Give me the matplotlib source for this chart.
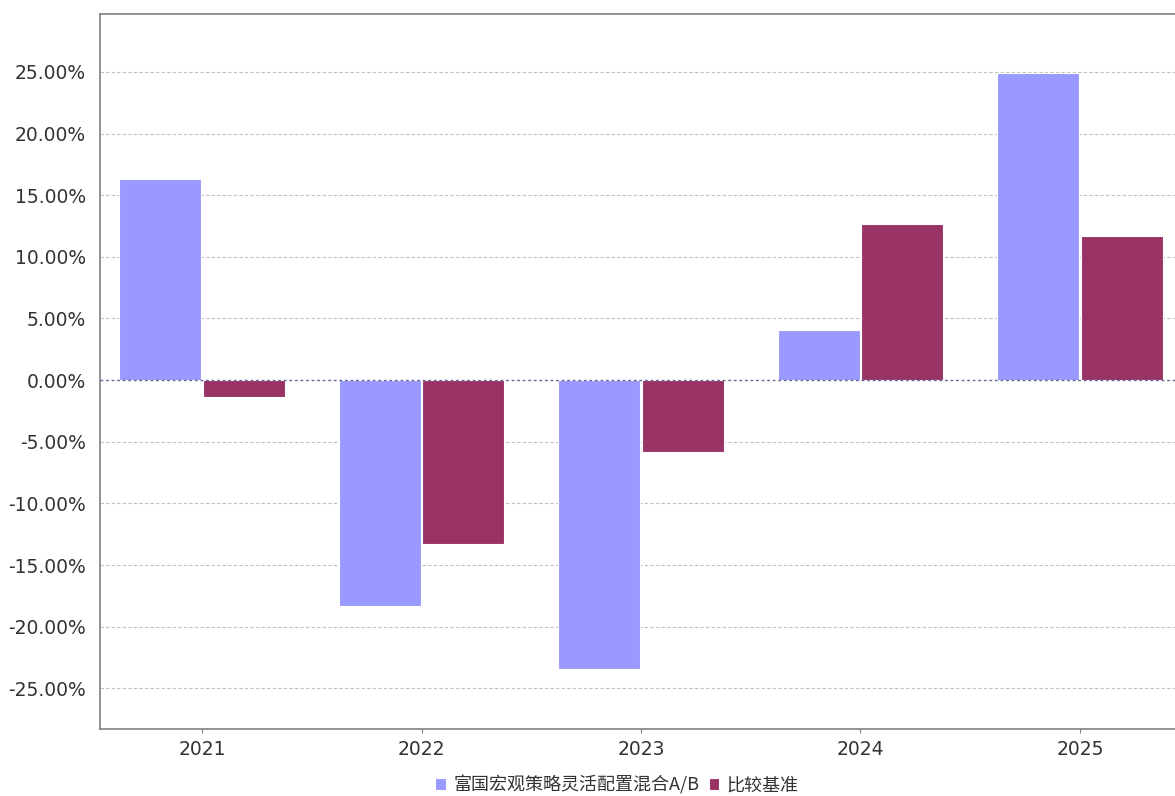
import matplotlib.pyplot as plt
import numpy as np

years = ['2021', '2022', '2023', '2024', '2025']
fund = [16.3, -18.3, -23.4, 4.06, 24.9]
benchmark = [-1.4, -13.3, -5.8, 12.66, 11.7]
series_names = ['富国宏观策略灵活配置混合A/B', '比较基准']
y_ticks = [-25, -20, -15, -10, -5, 0, 5, 10, 15, 20, 25]

plt.rcParams['font.family'] = ['DejaVu Sans', 'Noto Sans CJK SC']

fig = plt.figure(figsize=(11.75, 7.96), dpi=100)
# axes runs a bit past the right edge, like the cropped original
ax = fig.add_axes([100 / 1175, 67 / 796, 1082 / 1175, 715 / 796])

x = np.arange(len(years))
bar_width = 0.373
off = 0.19

ax.bar(x - off, fund, bar_width, color='#9999FF', edgecolor='white', linewidth=0.8,
       label=series_names[0], zorder=3)
ax.bar(x + off, benchmark, bar_width, color='#993366', edgecolor='white', linewidth=0.8,
       label=series_names[1], zorder=3)

ax.set_xlim(-0.465, 4.465)
ax.set_ylim(-28.3, 29.7)
ax.set_xticks(x)
ax.set_xticklabels(years)
ax.set_yticks(y_ticks)
ax.set_yticklabels(['%.2f%%' % v for v in y_ticks])

# grid lines, zero line darker and dotted
for v in y_ticks:
    if v == 0:
        ax.axhline(0, color='#666699', linestyle=(0, (2, 2)), linewidth=1.0, zorder=4)
    else:
        ax.axhline(v, color='#c0c0c0', linestyle=(0, (3, 2)), linewidth=0.8, zorder=1)

ax.spines['right'].set_visible(False)
for side in ['left', 'bottom', 'top']:
    ax.spines[side].set_color('#808080')
    ax.spines[side].set_linewidth(1.2)

ax.tick_params(axis='y', length=0, pad=10, labelsize=13.5, labelcolor='#333333')
ax.tick_params(axis='x', length=3, color='#808080', pad=5, labelsize=13.5, labelcolor='#333333')

handles, labels = ax.get_legend_handles_labels()
fig.legend(handles, labels, loc='center', bbox_to_anchor=(617 / 1175, 11 / 796), ncol=2,
           frameon=False, prop={'family': ['Noto Sans CJK SC', 'DejaVu Sans'], 'size': 13},
           handlelength=0.6, handleheight=0.6, handletextpad=0.4, columnspacing=0.5,
           labelcolor='#333333', borderpad=0, borderaxespad=0)

fig.savefig('out.png', dpi=100)
